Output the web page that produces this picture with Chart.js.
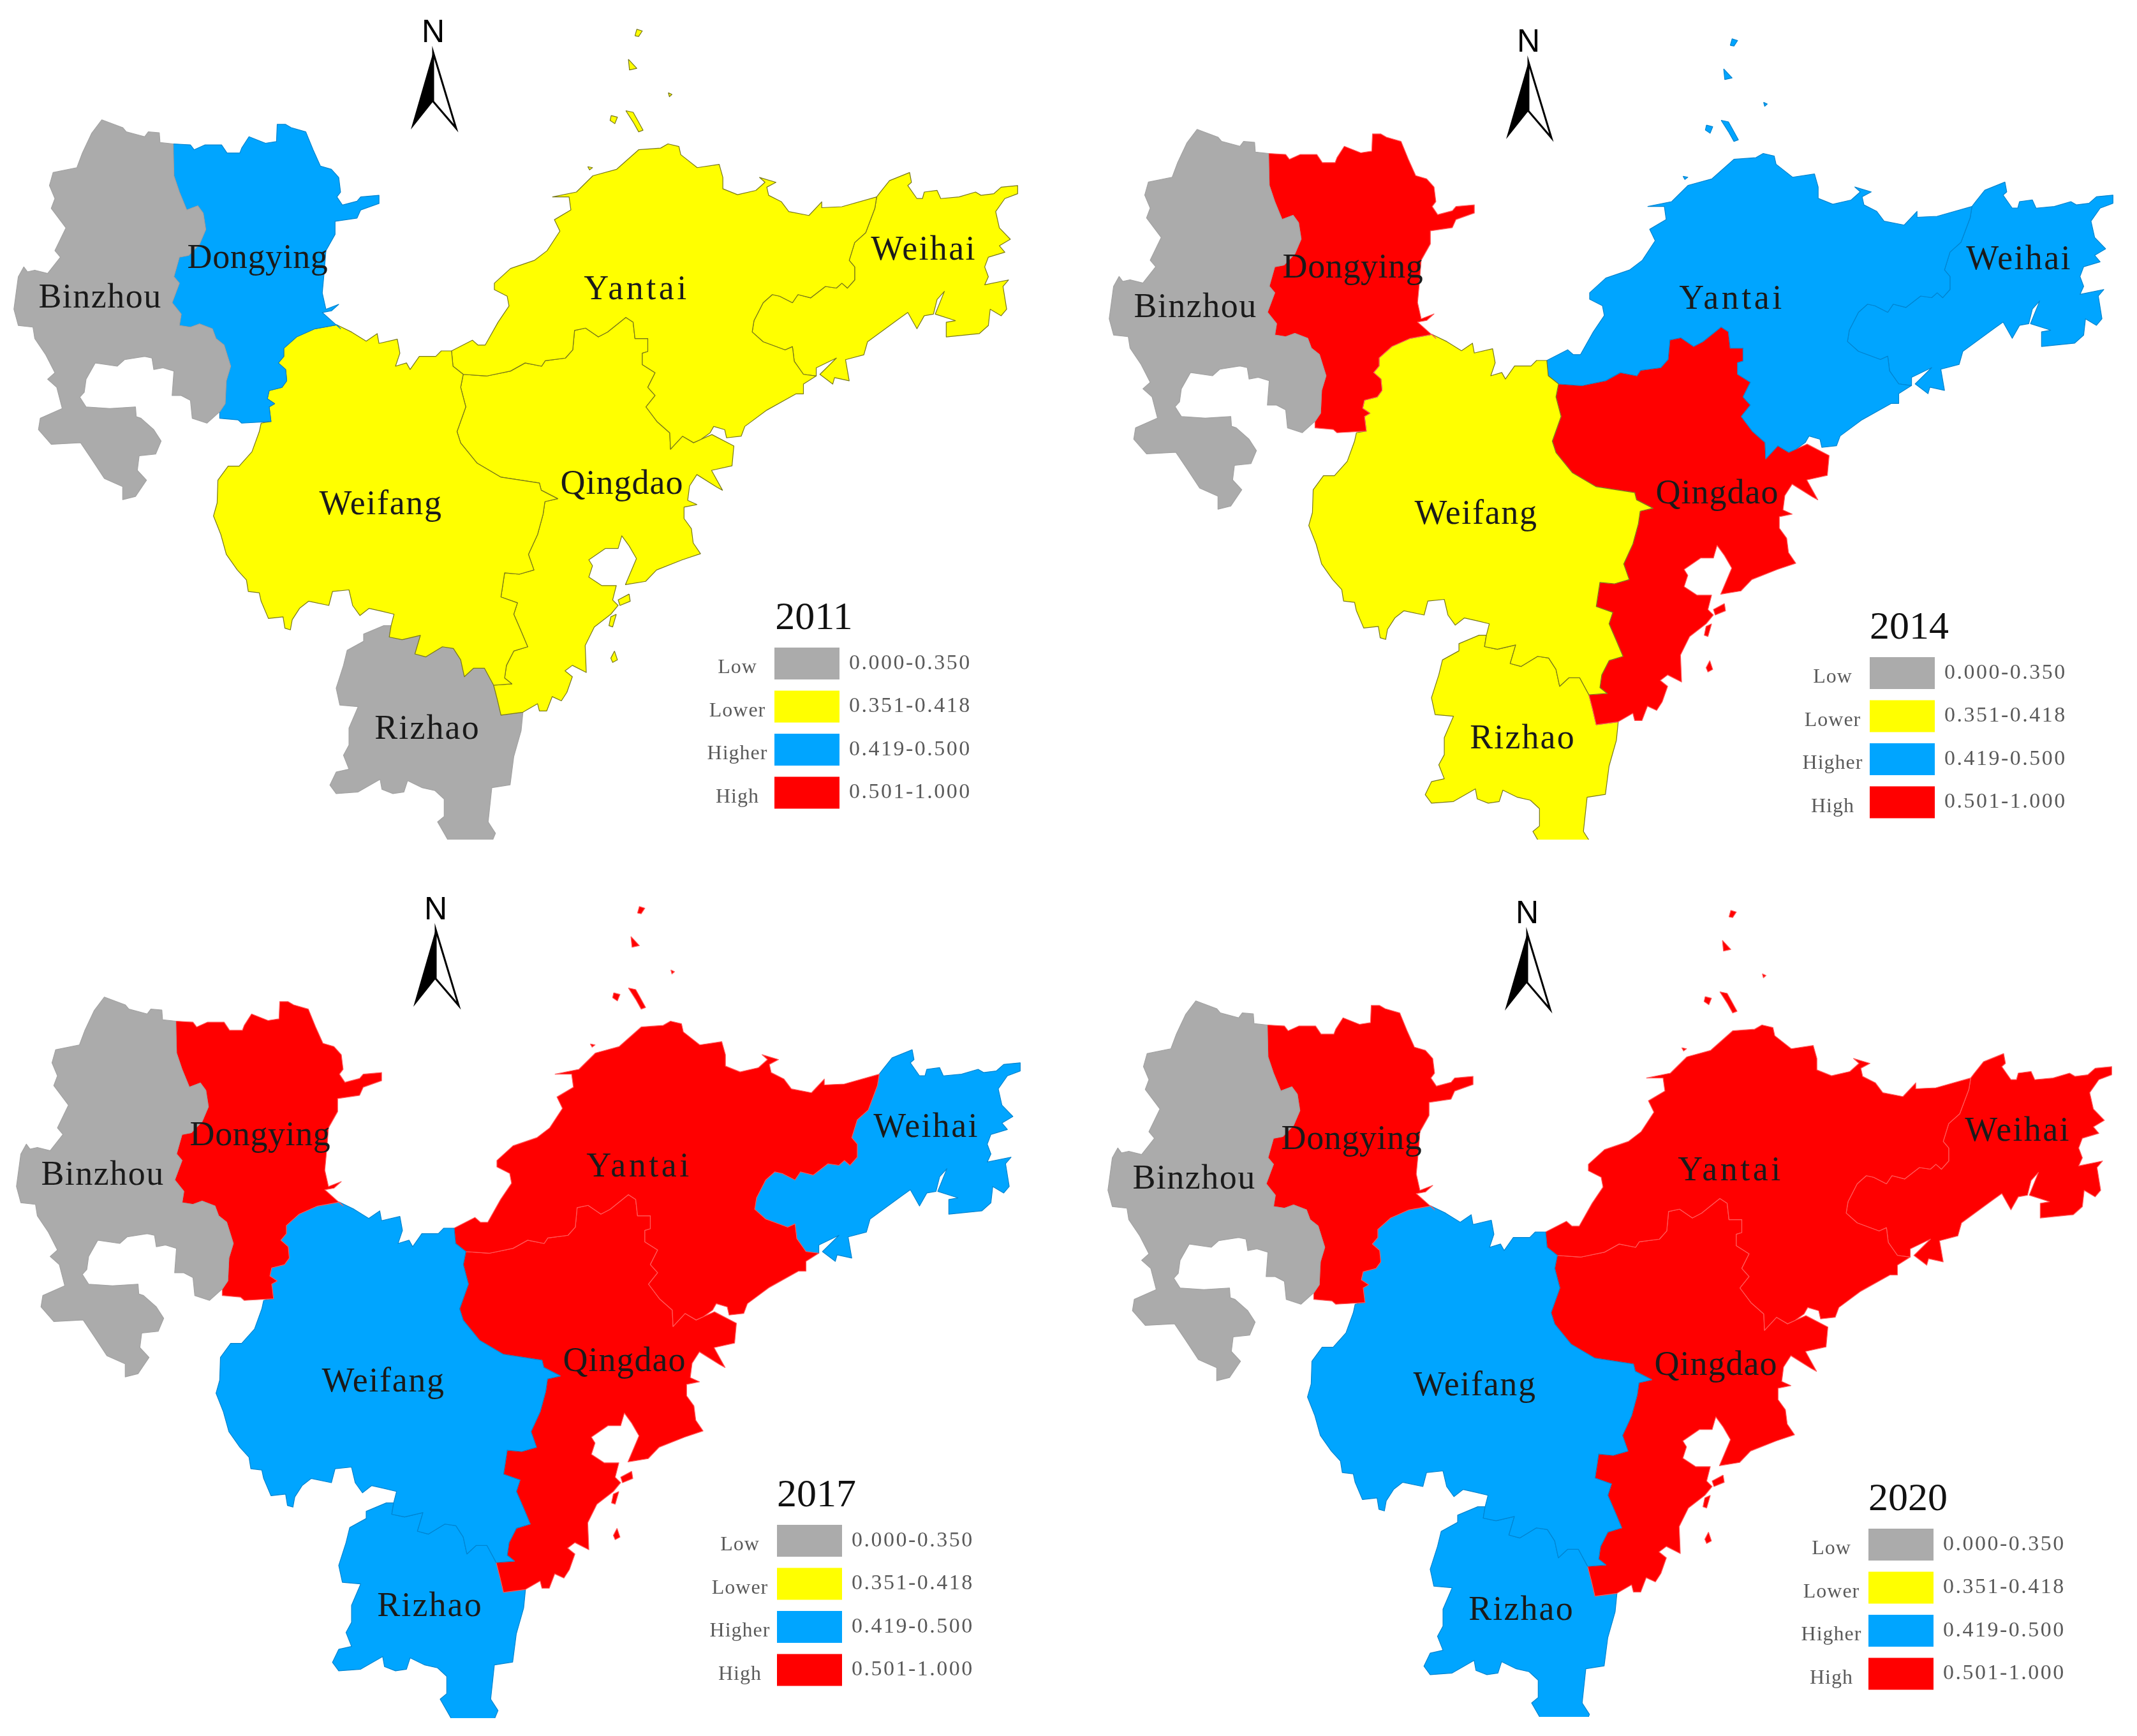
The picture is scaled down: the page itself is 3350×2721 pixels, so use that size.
<!DOCTYPE html>
<html>
<head>
<meta charset="utf-8">
<title>Coupling level by city</title>
<script src="https://cdn.jsdelivr.net/npm/chart.js@4"></script>
<style>
  html, body { margin: 0; background: #fff; }
  #page { position: relative; width: 3350px; height: 2721px; overflow: hidden; }
  canvas { position: absolute; }
</style>
</head>
<body>
<div id="page"></div>
<script>
// categories and class of each city per year
const cities = ['Binzhou', 'Dongying', 'Weifang', 'Yantai', 'Weihai', 'Qingdao', 'Rizhao'];
const years = ['2011', '2014', '2017', '2020'];
const class2011 = ['Low', 'Higher', 'Lower', 'Lower', 'Lower', 'Lower', 'Low'];
const class2014 = ['Low', 'High', 'Lower', 'Higher', 'Higher', 'High', 'Lower'];
const class2017 = ['Low', 'High', 'Higher', 'High', 'Higher', 'High', 'Higher'];
const class2020 = ['Low', 'High', 'Higher', 'High', 'High', 'High', 'Higher'];
const classNames = ['Low', 'Lower', 'Higher', 'High'];
const classRanges = ['0.000-0.350', '0.351-0.418', '0.419-0.500', '0.501-1.000'];

// boundary lines in map units, shared edges are kept once
const binzhouDongying = [[473,442],[475,540],[490,590],[510,645],[540,632],[555,655],[562,705],[545,750],[515,785],[490,790],[475,850],[490,870],[470,930],[495,965],[490,1000],[520,1005],[545,995],[580,1010],[590,1040],[612,1060],[630,1125],[618,1170],[615,1240],[600,1265]];
const binzhouCoast = [[565,1300],[525,1285],[520,1230],[495,1215],[470,1215],[475,1140],[445,1130],[420,1135],[415,1100],[395,1095],[340,1105],[320,1125],[260,1115],[235,1165],[230,1205],[218,1220],[235,1250],[300,1255],[370,1250],[372,1280],[385,1285],[420,1320],[440,1355],[425,1395],[380,1400],[375,1445],[400,1475],[370,1525],[335,1535],[335,1495],[285,1470],[250,1410],[220,1360],[140,1365],[105,1320],[110,1285],[170,1255],[155,1190],[130,1165],[150,1145],[125,1090],[95,1040],[90,1005],[50,1000],[38,950],[50,850],[65,820],[75,835],[95,830],[130,840],[165,790],[150,770],[180,700],[140,640],[150,610],[135,570],[145,530],[210,515],[225,470],[250,410],[278,368],[335,392],[345,405],[395,420],[405,405],[435,408],[437,438]];
const dongyingCoast = [[520,445],[530,460],[560,445],[605,445],[620,470],[655,470],[660,455],[680,420],[725,440],[755,435],[757,382],[780,382],[795,392],[835,405],[855,460],[875,510],[905,520],[925,545],[930,590],[920,605],[935,630],[975,618],[985,605],[1035,600],[1035,625],[985,645],[975,670],[915,680],[915,720],[890,770],[885,840],[880,900],[890,950],[925,935],[905,955],[880,960],[915,995],[930,1010]];
const dongyingWeifang = [[920,998],[860,1010],[810,1035],[775,1070],[775,1095],[760,1115],[780,1135],[783,1170],[770,1190],[735,1200],[730,1225],[750,1240],[735,1250],[740,1295]];
const dongyingSouth = [[660,1300],[650,1290],[600,1285]];
const weifangNorthCoast = [[960,1020],[1000,1048],[1030,1025],[1035,1055],[1085,1042],[1092,1085],[1080,1125],[1110,1115],[1120,1135],[1145,1095],[1190,1095],[1205,1078]];
const weifangYantai = [[1233,1078],[1237,1125],[1265,1150]];
const weifangQingdao = [[1265,1150],[1258,1190],[1272,1250],[1248,1326],[1258,1361],[1303,1423],[1368,1466],[1473,1484],[1478,1506],[1523,1532],[1488,1541],[1483,1580],[1468,1642],[1443,1703],[1458,1751],[1418,1764],[1378,1760],[1368,1834],[1413,1852],[1403,1887],[1423,1939],[1441,1987],[1403,2000],[1383,2044],[1378,2083],[1398,2101],[1348,2105]];
const weifangRizhao = [[1348,2105],[1323,2053],[1293,2053],[1268,2079],[1258,2027],[1238,1992],[1208,1987],[1163,2018],[1133,2009],[1148,1952],[1098,1965],[1063,1957],[1068,1922]];
const weifangSouthCoast = [[1076,1887],[1043,1878],[1008,1869],[983,1891],[963,1860],[953,1812],[908,1817],[898,1860],[843,1847],[818,1869],[798,1904],[793,1935],[778,1930],[773,1895],[733,1900],[713,1847],[708,1821],[678,1817],[673,1782],[648,1751],[618,1703],[603,1642],[583,1585],[593,1545],[595,1475],[623,1432],[653,1432],[688,1388],[708,1326],[713,1300]];
const qingdaoRizhao = [[1348,2105],[1358,2149],[1368,2197],[1428,2188]];
const rizhaoCoast = [[1423,2245],[1403,2324],[1393,2411],[1343,2420],[1333,2525],[1353,2560],[1338,2600],[1233,2600],[1213,2560],[1195,2525],[1213,2508],[1213,2455],[1188,2429],[1153,2420],[1113,2398],[1103,2433],[1073,2438],[1043,2425],[1038,2394],[978,2433],[918,2438],[901,2412],[918,2372],[953,2363],[938,2320],[953,2289],[953,2237],[978,2171],[928,2166],[918,2114],[938,2044],[948,1998],[993,1970],[993,1948],[1048,1922]];
const yantaiQingdao = [[1265,1150],[1330,1155],[1394,1140],[1434,1115],[1479,1125],[1489,1108],[1544,1100],[1564,1075],[1569,1015],[1599,1008],[1634,1035],[1659,1020],[1709,975],[1729,990],[1734,1040],[1769,1040],[1769,1080],[1754,1085],[1754,1120],[1789,1145],[1769,1190],[1789,1215],[1764,1250],[1794,1295],[1829,1330],[1831,1380],[1864,1340],[1894,1360],[1914,1350]];
const qingdaoCoast = [[1944,1335],[2004,1370],[1999,1431],[1943,1445],[1973,1506],[1958,1497],[1903,1458],[1883,1493],[1878,1537],[1903,1550],[1868,1558],[1868,1593],[1888,1624],[1893,1668],[1913,1701],[1863,1720],[1793,1751],[1763,1786],[1708,1796],[1738,1716],[1718,1677],[1698,1646],[1688,1685],[1653,1685],[1608,1720],[1618,1738],[1608,1773],[1643,1799],[1683,1799],[1673,1843],[1688,1860],[1668,1887],[1623,1926],[1598,1983],[1601,2066],[1563,2044],[1543,2061],[1563,2079],[1548,2127],[1533,2153],[1508,2140],[1493,2184],[1473,2184],[1468,2162],[1428,2188]];
const yantaiNorthCoast = [[1290,1045],[1305,1060],[1325,1060],[1360,990],[1390,940],[1385,910],[1350,890],[1350,870],[1394,825],[1459,800],[1494,770],[1529,710],[1514,675],[1559,645],[1554,605],[1509,605],[1574,590],[1619,540],[1684,520],[1744,460],[1804,455],[1824,442],[1854,450],[1859,475],[1904,515],[1964,505],[1974,545],[1974,580],[2014,598],[2064,585],[2089,560],[2074,545],[2119,560],[2094,575],[2099,600],[2134,620],[2154,650],[2209,662],[2244,620],[2244,638],[2299,635],[2394,605]];
const yantaiWeihai = [[2394,605],[2389,640],[2364,715],[2334,745],[2319,800],[2334,820],[2334,860],[2314,885],[2299,870],[2284,885],[2254,880],[2214,915],[2179,905],[2164,930],[2129,910],[2109,905],[2084,930],[2059,985],[2054,1020],[2084,1050],[2144,1075],[2164,1065],[2169,1110],[2194,1150],[2229,1155]];
const yantaiSouthCoast = [[2194,1180],[2194,1210],[2174,1210],[2094,1260],[2034,1310],[2024,1340],[1984,1345],[1979,1320],[1949,1310],[1939,1330],[1914,1350]];
const weihaiCoast = [[2229,1130],[2284,1100],[2239,1150],[2274,1180],[2279,1160],[2319,1170],[2309,1105],[2359,1090],[2369,1050],[2454,980],[2479,960],[2504,1010],[2524,970],[2549,965],[2559,920],[2579,895],[2554,965],[2609,985],[2584,990],[2584,1035],[2674,1025],[2699,1000],[2704,950],[2734,970],[2749,950],[2739,880],[2754,860],[2689,875],[2699,850],[2689,820],[2699,790],[2744,775],[2729,755],[2759,735],[2729,700],[2719,650],[2744,610],[2779,595],[2779,570],[2734,575],[2714,595],[2679,600],[2664,590],[2619,605],[2569,610],[2559,585],[2524,590],[2519,610],[2504,610],[2479,570],[2489,560],[2484,530],[2429,555],[2404,590]];

// islands in map units
const yantaiIslands = [
  [[1734,110],[1739,90],[1754,95],[1744,112]],
  [[1716,182],[1739,210],[1719,215]],
  [[1669,355],[1686,360],[1679,380],[1666,370]],
  [[1709,340],[1729,345],[1739,365],[1756,400],[1744,405],[1729,375]],
  [[1825,285],[1835,290],[1828,297]],
  [[1605,512],[1618,515],[1610,522]]
];
const qingdaoIslands = [
  [[1718,1825],[1721,1847],[1693,1860],[1688,1843]],
  [[1683,1887],[1673,1926],[1663,1922],[1668,1895]],
  [[1678,2000],[1686,2027],[1673,2035],[1668,2022]]
];

const rev = line => line.slice().reverse();
const outlines = {
  Binzhou: [...binzhouDongying, ...binzhouCoast],
  Dongying: [[473,442], ...dongyingCoast, ...dongyingWeifang, ...dongyingSouth, ...rev(binzhouDongying)],
  Weifang: [...dongyingWeifang.slice(0, 1), ...weifangNorthCoast, ...weifangYantai, ...weifangQingdao, ...weifangRizhao, ...weifangSouthCoast, ...rev(dongyingWeifang)],
  Yantai: [...weifangYantai.slice(0, 1), ...yantaiNorthCoast, ...yantaiWeihai, ...yantaiSouthCoast, ...rev(yantaiQingdao), ...rev(weifangYantai)],
  Weihai: [...yantaiWeihai, ...weihaiCoast],
  Qingdao: [...yantaiQingdao, ...qingdaoCoast, ...rev(qingdaoRizhao), ...rev(weifangQingdao)],
  Rizhao: [...rev(weifangRizhao), ...qingdaoRizhao, ...rizhaoCoast]
};

const fillColors = { Low: '#ababab', Lower: '#ffff00', Higher: '#00a5ff', High: '#ff0000' };
const edgeColors = { Low: '#a2a2a2', Lower: '#77771a', Higher: '#0084d0', High: '#ff5a5a' };

// panel layout in page pixels, the maps are cut off at the bottom like the source
const panelW = 1622;
const panelHeights = [1316, 1301, 1318, 1310];
const panelOffsets = [[0, 0], [1717, 15], [4, 1375], [1715, 1381]];
const mapUnitsX = 1.742, mapUnitsY = 1.96;
const labelSpots = { Binzhou: [157, 468], Dongying: [404, 406], Weifang: [597, 792], Yantai: [998, 455], Weihai: [1448, 393], Qingdao: [975, 760], Rizhao: [670, 1144] };
const labelPitch = 27.6;

function polygonDataset(points, cls) {
  return {
    data: points.concat([points[0]]).map(p => ({ x: p[0], y: p[1] })),
    showLine: true,
    fill: 'shape',
    backgroundColor: fillColors[cls],
    borderColor: edgeColors[cls],
    borderWidth: 1.2,
    borderJoinStyle: 'round',
    pointRadius: 0,
    pointHoverRadius: 0
  };
}

const decorations = {
  id: 'decorations',
  afterDraw(chart, args, opts) {
    const ctx = chart.ctx;
    ctx.save();
    ctx.textBaseline = 'middle';
    ctx.textAlign = 'center';

    // city names, spaced out to the even pitch of the source font
    ctx.fillStyle = '#1a1a1a';
    ctx.font = '54px "Liberation Serif"';
    cities.forEach(c => {
      ctx.letterSpacing = '0px';
      const gap = (c.length * labelPitch - ctx.measureText(c).width) / c.length;
      ctx.letterSpacing = gap.toFixed(2) + 'px';
      ctx.fillText(c, labelSpots[c][0], labelSpots[c][1]);
    });

    // north arrow
    ctx.letterSpacing = '0px';
    ctx.font = '50px "Liberation Sans"';
    ctx.fillStyle = '#000';
    ctx.fillText('N', 679, 52);
    ctx.beginPath();
    ctx.moveTo(679, 82);
    ctx.lineTo(644, 203);
    ctx.lineTo(679, 159);
    ctx.closePath();
    ctx.fill();
    ctx.beginPath();
    ctx.moveTo(679, 82);
    ctx.lineTo(715, 201);
    ctx.lineTo(679, 159);
    ctx.closePath();
    ctx.strokeStyle = '#000';
    ctx.lineWidth = 3;
    ctx.stroke();

    // year
    ctx.font = '62px "Liberation Serif"';
    ctx.fillStyle = '#111';
    ctx.fillText(opts.year, 1276, 970);

    // legend
    classNames.forEach((name, i) => {
      const top = 1015 + i * 67.5;
      ctx.fillStyle = fillColors[name];
      ctx.fillRect(1214, top, 102, 50);
      ctx.fillStyle = '#5a5a5a';
      ctx.textAlign = 'center';
      ctx.font = '32px "Liberation Serif"';
      ctx.letterSpacing = '1px';
      ctx.fillText(name, 1156, top + 32);
      ctx.textAlign = 'left';
      ctx.font = '34px "Liberation Serif"';
      ctx.letterSpacing = '2.5px';
      ctx.fillText(classRanges[i], 1331, top + 25);
      ctx.textAlign = 'center';
      ctx.letterSpacing = '0px';
    });
    ctx.restore();
  }
};

function drawPanel(index, classes) {
  const panelH = panelHeights[index];
  const canvas = document.createElement('canvas');
  canvas.width = panelW;
  canvas.height = panelH;
  canvas.style.left = panelOffsets[index][0] + 'px';
  canvas.style.top = panelOffsets[index][1] + 'px';
  document.getElementById('page').appendChild(canvas);

  const datasets = cities.map((c, i) => polygonDataset(outlines[c], classes[i]));
  yantaiIslands.forEach(p => datasets.push(polygonDataset(p, classes[cities.indexOf('Yantai')])));
  qingdaoIslands.forEach(p => datasets.push(polygonDataset(p, classes[cities.indexOf('Qingdao')])));

  new Chart(canvas, {
    type: 'scatter',
    data: { datasets },
    plugins: [decorations],
    options: {
      responsive: false,
      animation: false,
      devicePixelRatio: 1,
      layout: { padding: 0 },
      events: [],
      scales: {
        x: { type: 'linear', display: false, min: 0, max: panelW * mapUnitsX },
        y: { type: 'linear', display: false, reverse: true, min: 0, max: panelH * mapUnitsY }
      },
      plugins: {
        legend: { display: false },
        tooltip: { enabled: false },
        decorations: { year: years[index] }
      }
    }
  });
}

drawPanel(0, class2011);
drawPanel(1, class2014);
drawPanel(2, class2017);
drawPanel(3, class2020);
</script>
</body>
</html>
